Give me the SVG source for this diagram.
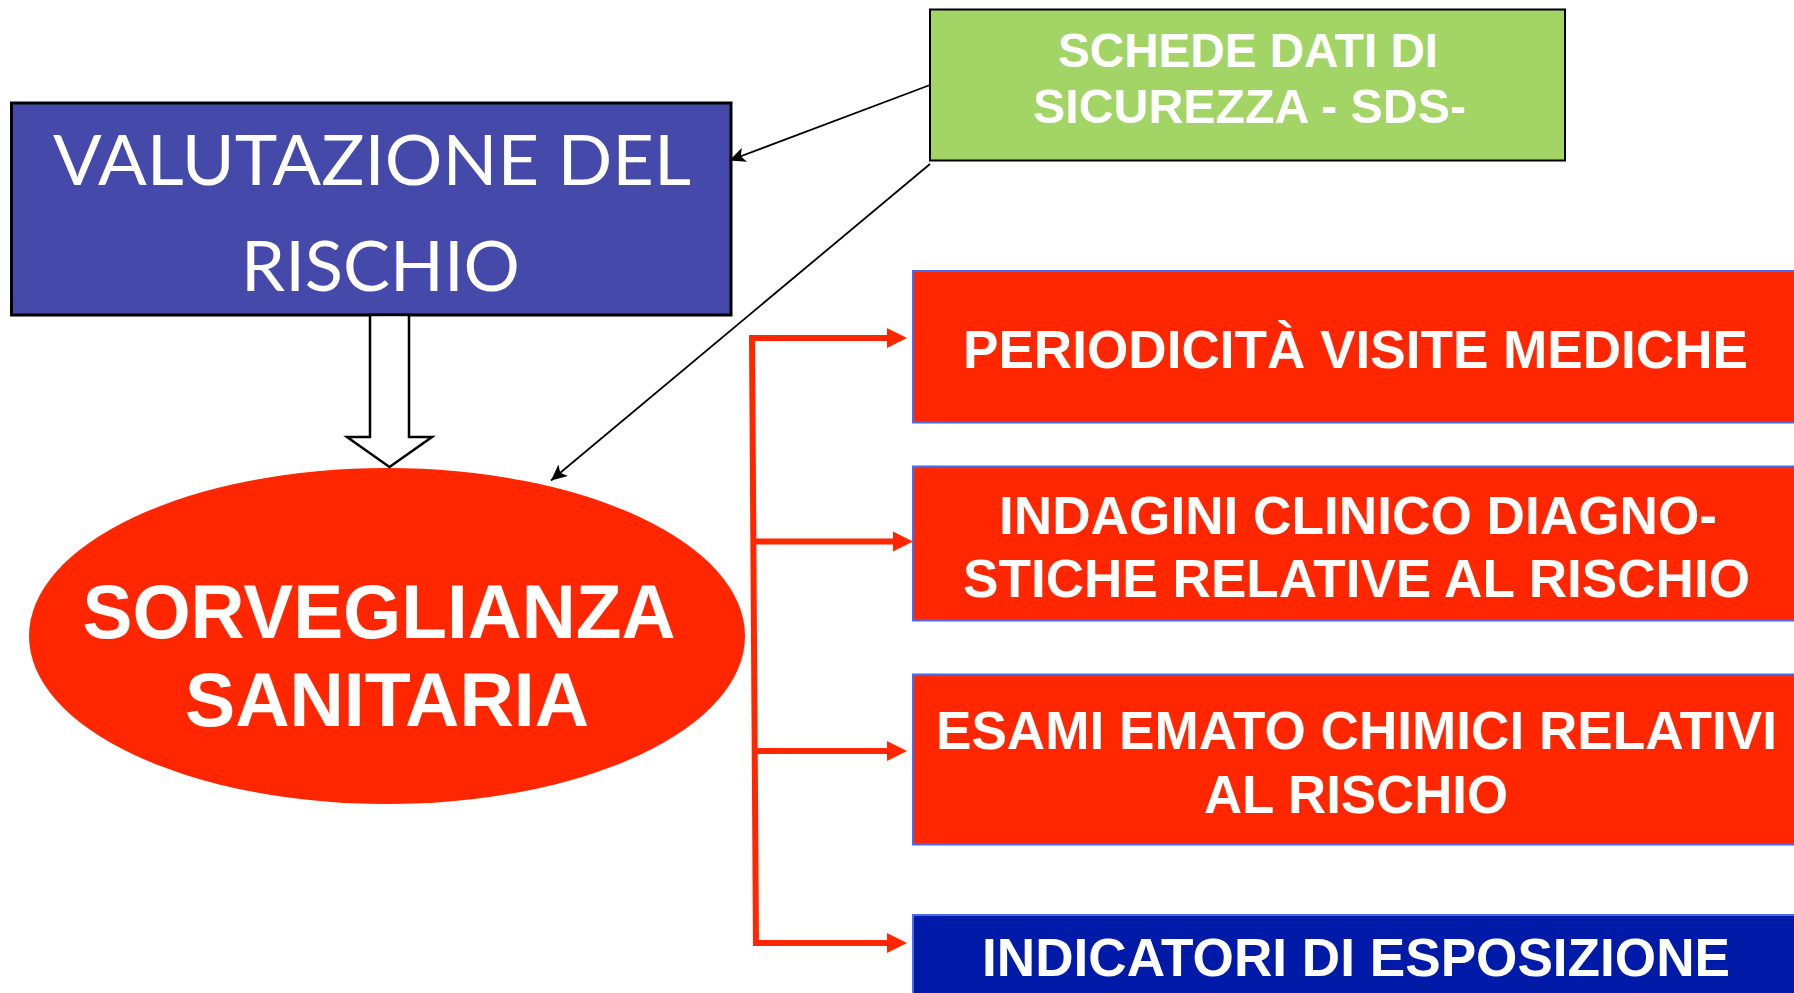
<svg xmlns="http://www.w3.org/2000/svg" width="1794" height="993" viewBox="0 0 1794 993">
<style>
.bt{font-family:"Liberation Sans Narrow","Liberation Sans",Arial,sans-serif;font-weight:bold;fill:#fff}
.gt{font-family:Lato,"Open Sans","Liberation Sans",sans-serif;font-weight:normal;fill:#fff}
.redbox{fill:#FF2600;stroke:#4A6BEF;stroke-width:2}
.red{stroke:#FF2600;stroke-width:6;fill:none}
.blk{stroke:#000;stroke-width:1.8;fill:none}
</style>
<defs>
<marker id="ah" viewBox="0 0 16 15" refX="16" refY="7.5" markerWidth="16" markerHeight="15" markerUnits="userSpaceOnUse" orient="auto">
<path d="M0 0 L16 7.5 L0 15 L4 7.5 Z" fill="#000"/>
</marker>
</defs>
<rect width="1794" height="993" fill="#fff"/>
<g id="valutazione">
<rect x="11.5" y="103" width="719.5" height="212" fill="#4449AA" stroke="#000" stroke-width="3"/>
<text class="gt" x="53" y="185" font-size="70" textLength="638" lengthAdjust="spacingAndGlyphs">VALUTAZIONE DEL</text>
<text class="gt" x="241" y="291" font-size="70" textLength="279" lengthAdjust="spacingAndGlyphs">RISCHIO</text>
</g>
<g id="sds">
<rect x="930" y="9.5" width="635" height="151" fill="#A3D566" stroke="#000" stroke-width="2"/>
<text class="bt" x="1058" y="66.7" font-size="48" textLength="380" lengthAdjust="spacingAndGlyphs">SCHEDE DATI DI</text>
<text class="bt" x="1033" y="123" font-size="48" textLength="433" lengthAdjust="spacingAndGlyphs">SICUREZZA - SDS-</text>
</g>
<g id="sorveglianza">
<ellipse cx="387" cy="636" rx="358" ry="168" fill="#FF2600"/>
<text class="bt" x="82.5" y="637.7" font-size="76" textLength="593" lengthAdjust="spacingAndGlyphs">SORVEGLIANZA</text>
<text class="bt" x="185" y="726" font-size="76" textLength="404" lengthAdjust="spacingAndGlyphs">SANITARIA</text>
</g>
<g id="periodicita">
<rect class="redbox" x="913" y="271" width="890" height="151.5"/>
<text class="bt" x="963" y="368" font-size="53" textLength="785" lengthAdjust="spacingAndGlyphs">PERIODICITÀ VISITE MEDICHE</text>
</g>
<g id="indagini">
<rect class="redbox" x="913" y="466.5" width="890" height="154"/>
<text class="bt" x="999" y="533.8" font-size="53" textLength="718" lengthAdjust="spacingAndGlyphs">INDAGINI CLINICO DIAGNO-</text>
<text class="bt" x="963" y="597" font-size="53" textLength="787" lengthAdjust="spacingAndGlyphs">STICHE RELATIVE AL RISCHIO</text>
</g>
<g id="esami">
<rect class="redbox" x="913" y="674.5" width="890" height="170"/>
<text class="bt" x="936" y="748.5" font-size="53" textLength="841" lengthAdjust="spacingAndGlyphs">ESAMI EMATO CHIMICI RELATIVI</text>
<text class="bt" x="1204" y="812.5" font-size="53" textLength="304" lengthAdjust="spacingAndGlyphs">AL RISCHIO</text>
</g>
<g id="indicatori">
<rect x="913" y="915" width="890" height="90" fill="#021AA8" stroke="#4A6BEF" stroke-width="2"/>
<text class="bt" x="982" y="976" font-size="53" textLength="748" lengthAdjust="spacingAndGlyphs">INDICATORI DI ESPOSIZIONE</text>
</g>
<g id="connectors">
<polygon points="370,315 370,437 347,437 389.5,467 432,437 409,437 409,315" fill="#fff" stroke="#000" stroke-width="2.5"/>
<line class="blk" x1="930" y1="85" x2="729.5" y2="160.5" marker-end="url(#ah)"/>
<line class="blk" x1="930" y1="164" x2="551" y2="480.5" marker-end="url(#ah)"/>
<path class="red" d="M752 335 L756 946"/>
<path class="red" d="M749 338 L888 338"/>
<path class="red" d="M753 541.5 L894 541.5"/>
<path class="red" d="M754 751 L888 751"/>
<path class="red" d="M756 943 L888 943"/>
<g fill="#FF2600">
<polygon points="887,328 907,338 887,348"/>
<polygon points="893,531.5 913,541.5 893,551.5"/>
<polygon points="887,741 907,751 887,761"/>
<polygon points="887,933 907,943 887,953"/>
</g>
</g>
</svg>
